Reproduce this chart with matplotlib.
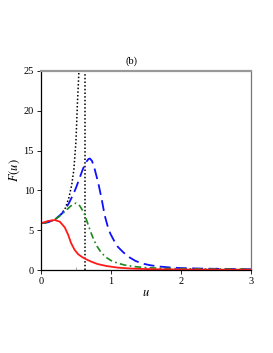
"""F(u) curves, panel (b)"""
import matplotlib.pyplot as plt
from matplotlib.ticker import MultipleLocator

plt.rcParams["font.family"] = ["Liberation Serif", "DejaVu Serif"]
plt.rcParams["mathtext.fontset"] = "stix"

# data
u_black = [0, 0.1, 0.2, 0.25, 0.3, 0.35, 0.4, 0.44, 0.47, 0.50, 0.52,
           0.535, 0.545, 0.55]
F_black = [5.87, 6.0, 6.35, 6.65, 7.1, 7.8, 9.1, 10.7, 12.6, 16.1, 20.7,
           23.5, 25.5, 27.0]

u_blue = [0, 0.1, 0.2, 0.3, 0.35, 0.4, 0.45, 0.5, 0.55, 0.6, 0.64, 0.68,
          0.70, 0.73, 0.77, 0.82, 0.87, 0.91, 0.95, 0.99, 1.05, 1.10, 1.18,
          1.25, 1.35, 1.44, 1.55, 1.68, 1.85, 2.0, 2.3, 2.6, 3.0]
F_blue = [5.87, 6.0, 6.35, 7.1, 7.7, 8.4, 9.3, 10.3, 11.5, 12.7, 13.5, 13.95,
          14.0, 13.7, 12.6, 10.9, 8.8, 6.9, 5.6, 4.6, 3.6, 2.9, 2.2,
          1.67, 1.15, 0.84, 0.62, 0.45, 0.32, 0.25, 0.18, 0.14, 0.1]

u_green = [0, 0.1, 0.2, 0.3, 0.36, 0.42, 0.47, 0.50, 0.53, 0.56, 0.60, 0.63,
           0.67, 0.71, 0.75, 0.8, 0.86, 0.93, 1.0, 1.1, 1.2, 1.35, 1.5, 1.8,
           2.2, 2.6, 3.0]
F_green = [5.87, 6.0, 6.35, 7.0, 7.5, 8.0, 8.3, 8.4, 8.3, 8.0, 7.4, 6.85,
           5.8, 4.8, 3.9, 3.0, 2.2, 1.6, 1.2, 0.85, 0.62, 0.42, 0.3, 0.2,
           0.14, 0.12, 0.1]

u_red = [0, 0.1, 0.2, 0.27, 0.34, 0.39, 0.43, 0.48, 0.53, 0.58, 0.62, 0.67,
         0.72, 0.81, 0.94, 1.1, 1.3, 1.6, 2.0, 2.5, 3.0]
F_red = [5.87, 6.16, 6.28, 6.07, 5.36, 4.4, 3.4, 2.55, 2.0, 1.68, 1.47, 1.25,
         1.05, 0.75, 0.5, 0.3, 0.18, 0.1, 0.07, 0.05, 0.04]

u_vline = 0.624

# plotting
fig = plt.figure(figsize=(2.73, 3.53), dpi=100)
ax = fig.add_axes([0.150, 0.235, 0.769, 0.564])

ax.plot(u_black, F_black, color="black", linestyle=(0, (1, 1.4)), lw=1.1)
ax.vlines(u_vline, 0, 25, color="black", linestyles=[(0, (1, 1.4))], lw=1.1)
ax.plot(u_blue, F_blue, color="#1010ff", linestyle=(0, (6, 3)), lw=1.3)
ax.plot(u_green, F_green, color="#1a8a1a", linestyle=(0, (4, 2, 1, 2)), lw=1.2)
ax.plot(u_red, F_red, color="#ff1a1a", linestyle="-", lw=1.3)

ax.set_xlim(0, 3)
ax.set_ylim(0, 25)
ax.xaxis.set_major_locator(MultipleLocator(1))
ax.yaxis.set_major_locator(MultipleLocator(5))
ax.xaxis.set_minor_locator(MultipleLocator(0.5))
ax.tick_params(which="major", direction="out", length=3, width=0.6, labelsize=7.5, pad=2)
ax.tick_params(which="minor", direction="in", length=2, width=0.5, color="#888888")
ax.tick_params(axis="y", which="minor", left=False)

for side in ["left", "bottom"]:
    ax.spines[side].set_linewidth(0.9)
ax.spines["top"].set_color("#999999")
ax.spines["top"].set_linewidth(1.6)
ax.spines["right"].set_color("#777777")
ax.spines["right"].set_linewidth(0.9)

ax.set_xlabel("$u$", fontsize=9)
ax.set_ylabel("$F(u)$", fontsize=9)
ax.xaxis.set_label_coords(0.5, -0.085)
ax.yaxis.set_label_coords(-0.09, 0.5)
ax.text(0.43, 1.025, "(b)", transform=ax.transAxes, ha="center", va="bottom", fontsize=7.5)

fig.savefig("out.png", dpi=100)
